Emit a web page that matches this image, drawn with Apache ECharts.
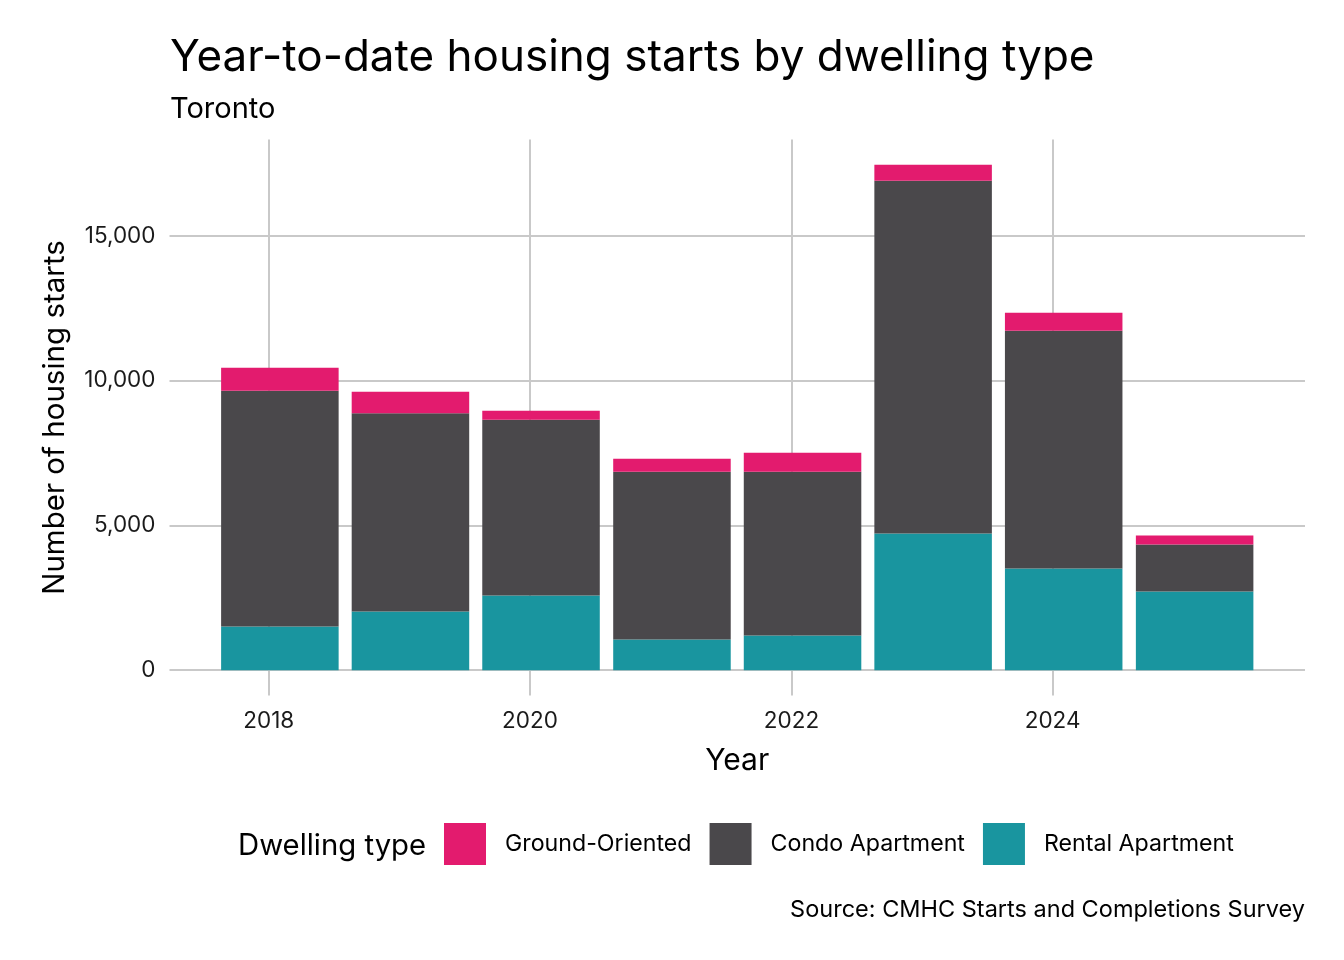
<!DOCTYPE html>
<html>
<head>
<meta charset="utf-8">
<script src="https://cdn.jsdelivr.net/npm/echarts@6/dist/echarts.min.js"></script>
<style>
html,body{margin:0;padding:0;background:#fff;}
#chart{width:1344px;height:960px;}
</style>
</head>
<body>
<div id="chart"></div>
<script>
const dates = ['2018-02-01','2019-02-01','2020-02-01','2021-02-01','2022-02-01','2023-02-01','2024-02-01','2025-02-01'];
const groundOriented = [794, 749, 310, 449, 656, 552, 621, 311];
const condoApartment = [8144, 6843, 6074, 5798, 5660, 12182, 8213, 1622];
const rentalApartment = [1508, 2026, 2578, 1059, 1197, 4718, 3510, 2716];
const xTickYears = [2018, 2020, 2022, 2024];
const yTicks = [0, 5000, 10000, 15000];

const DAY = 86400000;
const toDay = s => Date.parse(s + 'T00:00:00Z') / DAY;
const xDays = dates.map(toDay);
const halfW = 0.45 * 365;
const lo = Math.min(...xDays) - halfW, hi = Math.max(...xDays) + halfW;
const xMin = lo - 0.05 * (hi - lo), xMax = hi + 0.05 * (hi - lo);
const totals = dates.map((d, i) => groundOriented[i] + condoApartment[i] + rentalApartment[i]);
const tMax = Math.max(...totals);
const yMin = -0.05 * tMax, yMax = 1.05 * tMax;

const W = 1344, gridL = 169.5, gridR = 39;
const gridW = W - gridL - gridR;
const barPx = (2 * halfW) * gridW / (xMax - xMin);

const FONT = 'Inter';
const colors = {g: '#E31B6E', c: '#4A484B', r: '#19959F'};
// [value, x] so the stacked dimension is the value one
const pair = arr => arr.map((v, i) => [v, xDays[i]]);

const chart = echarts.init(document.getElementById('chart'), null, {renderer: 'canvas'});
chart.setOption({
  animation: false,
  backgroundColor: '#ffffff',
  textStyle: {fontFamily: FONT},
  title: [
    {text: 'Year-to-date housing starts by dwelling type', left: 170, top: 36, padding: 0,
     textStyle: {fontFamily: FONT, fontSize: 44, fontWeight: 'normal', color: '#000'}},
    {text: 'Toronto', left: 170, top: 95, padding: 0,
     textStyle: {fontFamily: FONT, fontSize: 29, fontWeight: 'normal', color: '#000'}},
    {text: 'Dwelling type', left: 238, top: 832, padding: 0,
     textStyle: {fontFamily: FONT, fontSize: 29.3, fontWeight: 'normal', color: '#000'}},
    {text: 'Source: CMHC Starts and Completions Survey', right: 39, top: 898, padding: 0,
     textStyle: {fontFamily: FONT, fontSize: 23.5, fontWeight: 'normal', color: '#000'}}
  ],
  legend: {
    left: 444, top: 823, orient: 'horizontal', padding: 0,
    itemWidth: 42, itemHeight: 42, itemGap: 18, icon: 'rect',
    data: ['Ground-Oriented', 'Condo Apartment', 'Rental Apartment'],
    textStyle: {fontFamily: FONT, fontSize: 23.2, color: '#000', padding: [3, 0, 0, 14]}
  },
  grid: {left: gridL, right: gridR, top: 139.5, bottom: 264.5, containLabel: false},
  xAxis: {
    type: 'value', min: xMin, max: xMax,
    name: 'Year', nameLocation: 'middle', nameGap: 50,
    nameTextStyle: {fontFamily: FONT, fontSize: 30, color: '#000'},
    axisLine: {show: false}, axisTick: {show: false, customValues: xTickYears.map(y => Date.UTC(y, 0, 1) / DAY)},
    axisLabel: {customValues: xTickYears.map(y => Date.UTC(y, 0, 1) / DAY), margin: 14,
      fontFamily: FONT, fontSize: 22.5, color: '#1a1a1a',
      formatter: v => String(new Date(Math.round(v) * DAY).getUTCFullYear())},
    splitLine: {show: true, lineStyle: {color: '#C9C9C9', width: 2}}
  },
  yAxis: {
    type: 'value', min: yMin, max: yMax,
    name: 'Number of housing starts', nameLocation: 'middle', nameGap: 99,
    nameTextStyle: {fontFamily: FONT, fontSize: 29.5, color: '#000'},
    axisLine: {show: false}, axisTick: {show: false, customValues: yTicks},
    axisLabel: {customValues: yTicks, margin: 14, fontFamily: FONT, fontSize: 22.5, color: '#1a1a1a',
      formatter: v => Math.round(v).toLocaleString('en-US')},
    splitLine: {show: true, lineStyle: {color: '#C9C9C9', width: 2}}
  },
  series: [
    {name: 'Rental Apartment', type: 'bar', stack: 'a', barWidth: barPx, data: pair(rentalApartment),
     encode: {x: 1, y: 0}, itemStyle: {color: colors.r}},
    {name: 'Condo Apartment', type: 'bar', stack: 'a', barWidth: barPx, data: pair(condoApartment),
     encode: {x: 1, y: 0}, itemStyle: {color: colors.c}},
    {name: 'Ground-Oriented', type: 'bar', stack: 'a', barWidth: barPx, data: pair(groundOriented),
     encode: {x: 1, y: 0}, itemStyle: {color: colors.g}}
  ]
});
</script>
</body>
</html>
